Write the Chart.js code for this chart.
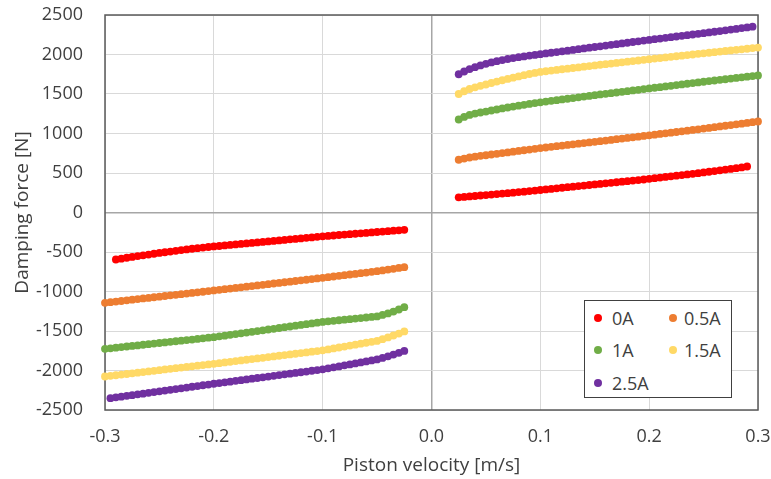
<!DOCTYPE html>
<html><head><meta charset="utf-8">
<script src="https://cdn.jsdelivr.net/npm/chart.js@4/dist/chart.umd.min.js"></script>
<style>
html,body{margin:0;padding:0;background:#fff;}
#wrap{position:relative;width:771px;height:479px;}
#legendBox{position:absolute;left:584px;top:300px;width:146px;height:96px;border:1px solid #404040;background:#fff;}
.item{position:absolute;height:20px;line-height:20px;font-family:'Open Sans';font-size:18px;color:#404040;white-space:nowrap;}
.dot{position:absolute;top:6px;left:-18px;width:8px;height:8px;border-radius:50%;}
</style></head>
<body><div id="wrap"><canvas id="c" width="771" height="479"></canvas><div id="legendBox"></div></div>
<script>
const seriesNames = ['0A','0.5A','1A','1.5A','2.5A'];
const seriesColors = ['#FF0000','#ED7D31','#70AD47','#FFD966','#7030A0'];

const velPos = [0.025,0.03,0.035,0.04,0.045,0.05,0.055,0.06,0.065,0.07,0.075,0.08,0.085,0.09,0.095,0.1,0.105,0.11,0.115,0.12,0.125,0.13,0.135,0.14,0.145,0.15,0.155,0.16,0.165,0.17,0.175,0.18,0.185,0.19,0.195,0.2,0.205,0.21,0.215,0.22,0.225,0.23,0.235,0.24,0.245,0.25,0.255,0.26,0.265,0.27,0.275,0.28,0.285,0.29,0.295,0.3];
const velNeg = [-0.3,-0.295,-0.29,-0.285,-0.28,-0.275,-0.27,-0.265,-0.26,-0.255,-0.25,-0.245,-0.24,-0.235,-0.23,-0.225,-0.22,-0.215,-0.21,-0.205,-0.2,-0.195,-0.19,-0.185,-0.18,-0.175,-0.17,-0.165,-0.16,-0.155,-0.15,-0.145,-0.14,-0.135,-0.13,-0.125,-0.12,-0.115,-0.11,-0.105,-0.1,-0.095,-0.09,-0.085,-0.08,-0.075,-0.07,-0.065,-0.06,-0.055,-0.05,-0.045,-0.04,-0.035,-0.03,-0.025];

// positive-velocity branches (start at +0.025 m/s)
const pos0A  = [192,197,203,209,215,221,227,233,239,245,251,258,264,271,278,285,292,299,306,313,320,327,334,341,348,355,362,369,376,383,390,397,404,411,418,426,434,442,450,458,466,474,482,490,498,507,516,525,534,543,552,561,571,582];
const pos05A = [668,683,696,707,717,725,734,743,752,761,770,779,788,797,806,815,823,831,839,847,855,863,871,879,887,895,903,911,919,928,936,944,952,960,969,977,985,994,1002,1011,1019,1028,1036,1045,1053,1062,1071,1080,1089,1098,1107,1116,1125,1134,1143,1152];
const pos1A  = [1177,1210,1235,1252,1266,1278,1291,1304,1317,1329,1341,1352,1363,1374,1385,1395,1404,1413,1422,1431,1440,1449,1458,1467,1476,1485,1494,1502,1511,1519,1528,1536,1545,1553,1562,1570,1579,1587,1596,1604,1613,1621,1630,1638,1647,1655,1663,1671,1679,1687,1695,1703,1711,1719,1727,1735];
const pos15A = [1500,1535,1563,1584,1603,1620,1639,1657,1674,1691,1707,1723,1738,1753,1767,1780,1788,1796,1805,1813,1821,1829,1837,1846,1854,1862,1870,1878,1885,1893,1901,1909,1917,1924,1932,1940,1948,1955,1963,1970,1978,1985,1993,2000,2008,2015,2022,2030,2037,2044,2052,2059,2066,2073,2081,2088];
const pos25A = [1750,1785,1815,1840,1862,1882,1900,1916,1930,1943,1955,1966,1976,1986,1995,2004,2013,2022,2031,2040,2049,2058,2068,2077,2086,2095,2104,2113,2122,2131,2140,2149,2158,2167,2176,2185,2194,2202,2211,2219,2228,2236,2245,2253,2262,2270,2279,2288,2297,2306,2315,2324,2334,2343,2352];

// negative-velocity branches (end at -0.025 m/s)
const neg0A  = [-595,-584,-573,-562,-552,-542,-532,-522,-512,-503,-494,-485,-476,-467,-459,-451,-444,-437,-430,-424,-417,-411,-404,-398,-392,-385,-379,-372,-366,-360,-353,-347,-340,-334,-328,-321,-315,-308,-302,-296,-291,-285,-280,-274,-269,-263,-258,-252,-247,-241,-236,-230,-225,-219];
const neg05A = [-1143,-1135,-1127,-1120,-1112,-1104,-1096,-1088,-1081,-1073,-1065,-1057,-1049,-1042,-1034,-1026,-1018,-1010,-1003,-995,-987,-979,-971,-963,-955,-947,-939,-931,-923,-915,-907,-899,-891,-883,-875,-867,-859,-851,-843,-835,-827,-819,-810,-802,-793,-785,-777,-768,-760,-751,-743,-733,-723,-713,-702,-692];
const neg1A  = [-1726,-1719,-1711,-1704,-1696,-1689,-1682,-1674,-1667,-1659,-1652,-1645,-1637,-1630,-1622,-1615,-1608,-1600,-1593,-1585,-1578,-1568,-1559,-1549,-1539,-1530,-1520,-1510,-1501,-1491,-1481,-1472,-1462,-1452,-1443,-1433,-1423,-1414,-1404,-1394,-1385,-1378,-1371,-1364,-1357,-1350,-1343,-1336,-1329,-1322,-1315,-1297,-1277,-1254,-1228,-1198];
const neg15A = [-2076,-2068,-2060,-2052,-2044,-2036,-2028,-2020,-2012,-2004,-1996,-1987,-1979,-1971,-1963,-1955,-1947,-1939,-1931,-1923,-1915,-1907,-1898,-1890,-1881,-1873,-1864,-1856,-1847,-1839,-1830,-1822,-1813,-1805,-1796,-1788,-1779,-1771,-1762,-1754,-1745,-1733,-1721,-1709,-1697,-1685,-1673,-1661,-1649,-1637,-1625,-1604,-1581,-1557,-1532,-1506];
const neg25A = [-2350,-2340,-2331,-2321,-2312,-2302,-2293,-2283,-2273,-2264,-2254,-2245,-2235,-2225,-2216,-2206,-2197,-2187,-2178,-2168,-2159,-2150,-2141,-2131,-2122,-2113,-2104,-2095,-2086,-2077,-2067,-2058,-2049,-2040,-2031,-2022,-2013,-2003,-1994,-1985,-1973,-1960,-1948,-1935,-1923,-1910,-1898,-1885,-1873,-1860,-1841,-1820,-1799,-1776,-1752];

const xTicks = [-0.3,-0.2,-0.1,0.0,0.1,0.2,0.3];
const yTicks = [-2500,-2000,-1500,-1000,-500,0,500,1000,1500,2000,2500];

const negSets = [neg0A, neg05A, neg1A, neg15A, neg25A];
const posSets = [pos0A, pos05A, pos1A, pos15A, pos25A];

function branch(vels, vals, fromEnd) {
  const v = fromEnd ? vels.slice(vels.length - vals.length) : vels.slice(0, vals.length);
  return vals.map((f, i) => ({x: v[i], y: f}));
}

const datasets = seriesNames.map((name, i) => ({
  label: name,
  data: branch(velNeg, negSets[i], true).concat(branch(velPos, posSets[i], false)),
  backgroundColor: seriesColors[i],
  borderColor: seriesColors[i],
  pointRadius: 3.9,
  pointBorderWidth: 0,
  showLine: false,
  clip: false
}));

const TICK_FONT = {family: 'Open Sans', size: 18};
const TITLE_FONT = {family: 'Open Sans', size: 19};
const TXT = '#404040';
const gridColor = c => (c.tick && c.tick.value === 0) ? '#a6a6a6' : '#d9d9d9';
const gridWidth = c => (c.tick && c.tick.value === 0) ? 1.5 : 1;

const framePlugin = {
  id: 'frame',
  beforeDatasetsDraw(chart) {
    const {ctx, chartArea: a} = chart;
    ctx.save();
    ctx.strokeStyle = '#595959';
    ctx.lineWidth = 1.5;
    ctx.strokeRect(a.left, a.top, a.right - a.left, a.bottom - a.top);
    ctx.restore();
  }
};

new Chart(document.getElementById('c'), {
  type: 'scatter',
  data: {datasets},
  options: {
    responsive: false,
    animation: false,
    layout: {padding: {top: 15, right: 13, left: 0, bottom: 0}},
    plugins: {legend: {display: false}, tooltip: {enabled: false}},
    scales: {
      x: {
        type: 'linear', min: xTicks[0], max: xTicks[xTicks.length - 1],
        afterBuildTicks(s) { s.ticks = xTicks.map(v => ({value: v})); },
        afterFit(s) { s.height = 69; },
        ticks: {font: TICK_FONT, color: TXT, padding: 0, maxRotation: 0, callback: v => Number(v).toFixed(1)},
        grid: {drawTicks: true, tickLength: 16, tickColor: 'rgba(0,0,0,0)', color: gridColor, lineWidth: gridWidth},
        border: {display: false},
        title: {display: true, text: 'Piston velocity [m/s]', font: TITLE_FONT, color: TXT, padding: {top: 0, bottom: 2}}
      },
      y: {
        type: 'linear', min: yTicks[0], max: yTicks[yTicks.length - 1],
        afterBuildTicks(s) { s.ticks = yTicks.map(v => ({value: v})); },
        afterFit(s) { s.width = 105; },
        ticks: {font: TICK_FONT, color: TXT, padding: 0, callback: v => String(v)},
        grid: {drawTicks: true, tickLength: 22, tickColor: 'rgba(0,0,0,0)', color: gridColor, lineWidth: gridWidth},
        border: {display: false},
        title: {display: true, text: 'Damping force [N]', font: TITLE_FONT, color: TXT, padding: {top: 11, bottom: 0}}
      }
    }
  },
  plugins: [framePlugin]
});

// legend (HTML), built from series names/colours
const legendSlots = [[612, 308], [684, 308], [612, 340], [684, 340], [612, 373]];
const wrap = document.getElementById('wrap');
seriesNames.forEach((name, i) => {
  const it = document.createElement('div');
  it.className = 'item';
  it.style.left = legendSlots[i][0] + 'px';
  it.style.top = legendSlots[i][1] + 'px';
  const d = document.createElement('span');
  d.className = 'dot';
  d.style.background = seriesColors[i];
  if (i % 2 === 1) d.style.left = '-15px';
  it.appendChild(d);
  it.appendChild(document.createTextNode(name));
  wrap.appendChild(it);
});
</script>
</body></html>
